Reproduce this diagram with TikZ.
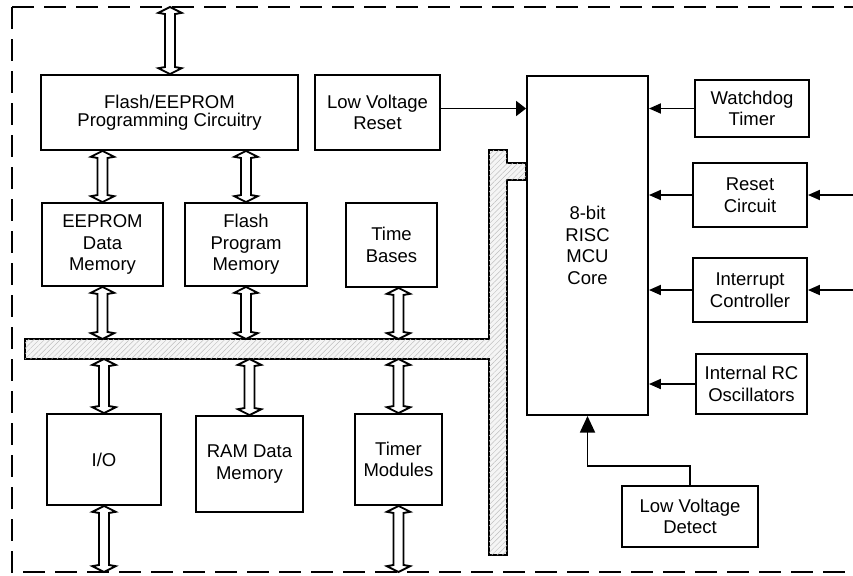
\documentclass[tikz,border=0pt]{standalone}
\usepackage{fontspec}
\setmainfont{Liberation Sans}
\usetikzlibrary{arrows.meta,calc,patterns.meta}

% hollow double-headed bus arrow, vertical, from #1 (top) down to #2
\newcommand\busarrow[2]{%
  \draw[busarr] let \p1=#1, \p2=#2 in
    (\x1,\y1) -- (\x1+10pt,\y1-5pt) -- (\x1+4.3pt,\y1-6pt) -- (\x1+4.3pt,\y2+6pt)
    -- (\x1+10pt,\y2+5pt) -- (\x1,\y2) -- (\x1-10pt,\y2+5pt) -- (\x1-4.3pt,\y2+6pt)
    -- (\x1-4.3pt,\y1-6pt) -- (\x1-10pt,\y1-5pt) -- cycle;}

\begin{document}
\begin{tikzpicture}[x=0.03cm,y=-0.03cm,line width=1.6pt,
  >={Triangle[length=0.36cm,width=0.3cm]},
  blk/.style 2 args={draw,minimum width=#1*0.03cm,minimum height=#2*0.03cm,
    inner sep=0pt,align=center,font=\fontsize{15.8}{18.5}\selectfont},
  sig/.style={->},
  widesig/.style={-{Triangle[length=0.3cm,width=0.45cm]}},
  bigsig/.style={-{Triangle[length=0.5cm,width=0.45cm]}},
  busarr/.style={fill=white,line join=miter},
  busfill/.style={fill=gray!8,postaction={pattern={Lines[angle=45,distance=3.2pt,line width=0.4pt]},pattern color=gray!50}},
  frame/.style={dash pattern=on 0.66cm off 0.3cm}]
\useasboundingbox (0,0) rectangle (853,575);
\draw[frame] (12,7) -- (853,7);
\draw[frame] (12,7) -- (12,572) -- (853,572);
\coordinate (topio) at (170,7);
\coordinate (botio) at (0,572);
\coordinate (bustop) at (0,339);
\coordinate (busbot) at (0,359);

\node[blk={257}{75}] (prog) at (169.5,112.5) {Flash/EEPROM\\[-3pt]Programming Circuitry};
\node[blk={125}{75}] (lvr) at (377.5,112.5) {Low Voltage\\Reset};
\node[blk={121}{339}] (core) at (587.5,245.5) {8-bit\\RISC\\MCU\\Core};
\node[blk={114}{57}] (wdt) at (752,108.5) {Watchdog\\Timer};
\node[blk={114}{64}] (rst) at (750,195) {Reset\\Circuit};
\node[blk={114}{64}] (intc) at (750,290) {Interrupt\\Controller};
\node[blk={111}{60}] (rco) at (751.5,384) {Internal RC\\Oscillators};
\node[blk={136}{61}] (lvd) at (690,516.5) {Low Voltage\\Detect};
\node[blk={121}{83}] (eeprom) at (102.5,244.5) {EEPROM\\Data\\Memory};
\node[blk={122}{83}] (flash) at (246,244.5) {Flash\\Program\\Memory};
\node[blk={91}{84}] (tbase) at (391.5,245) {Time\\Bases};
\node[blk={114}{91}] (io) at (104,459.5) {I/O};
\node[blk={107}{96}] (ram) at (249.5,464) {RAM Data\\Memory};
\node[blk={87}{91}] (tmod) at (398.5,459.5) {Timer\\Modules};

% data bus
\draw[busfill] (25,339) -- (489,339) -- (489,150) -- (507,150) -- (507,163)
  -- (core.west |- 0,163) -- (core.west |- 0,180) -- (507,180) -- (507,555)
  -- (489,555) -- (489,359) -- (25,359) -- cycle;

\busarrow{(topio)}{(prog.north)}
\busarrow{(prog.south -| eeprom.north)}{(eeprom.north)}
\busarrow{(prog.south -| flash.north)}{(flash.north)}
\busarrow{(eeprom.south)}{(eeprom.south |- bustop)}
\busarrow{(flash.south)}{(flash.south |- bustop)}
\busarrow{(tmod.north |- tbase.south)}{(tmod.north |- bustop)}
\busarrow{(io.north |- busbot)}{(io.north)}
\busarrow{(ram.north |- busbot)}{(ram.north)}
\busarrow{(tmod.north |- busbot)}{(tmod.north)}
\busarrow{(io.south)}{(io.south |- botio)}
\busarrow{(tmod.south)}{(tmod.south |- botio)}

\draw[widesig] (lvr.east |- wdt.west) -- (core.west |- wdt.west);
\draw[sig] (wdt.west) -- (core.east |- wdt.west);
\draw[sig] (rst.west) -- (core.east |- rst.west);
\draw[sig] (intc.west) -- (core.east |- intc.west);
\draw[sig] (rco.west) -- (core.east |- rco.west);
\coordinate (rstin) at (853,195);
\coordinate (intin) at (853,290);
\draw[sig] (rstin) -- (rst.east);
\draw[sig] (intin) -- (intc.east);
\draw[bigsig] (lvd.north) -- ++(0,-19) -| (core.south);
\end{tikzpicture}
\end{document}
